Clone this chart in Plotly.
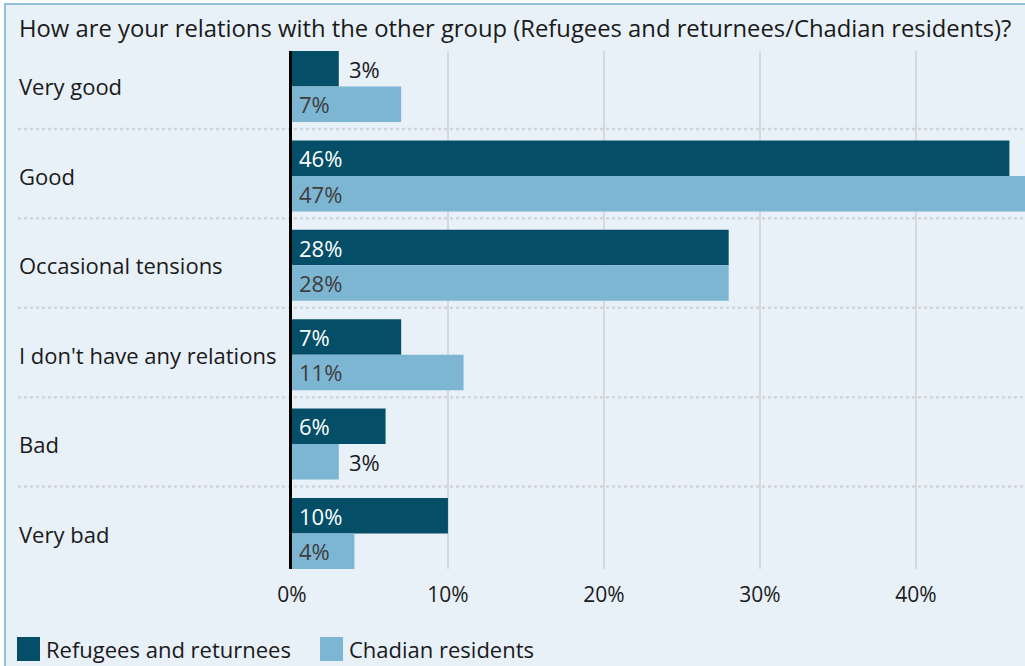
import plotly.graph_objects as go

# Survey answers and shares (%) for each group
categories = ["Very good", "Good", "Occasional tensions",
              "I don't have any relations", "Bad", "Very bad"]
refugees = [3, 46, 28, 7, 6, 10]
residents = [7, 47, 28, 11, 3, 4]
series_names = ["Refugees and returnees", "Chadian residents"]
tick_values = [0, 10, 20, 30, 40]
tick_labels = ["0%", "10%", "20%", "30%", "40%"]
title_text = ("How are your relations with the other group "
              "(Refugees and returnees/Chadian residents)?")

DARK = "#044f67"
LIGHT = "#7db6d2"
PANEL = "#e8f0f8"
FONT = "Open Sans"
TXT = "#1a1a1a"

# Canvas geometry (pixels)
FIG_W, FIG_H = 1025, 666
M_L, M_R, M_T, M_B = 292, 0, 51, 97
PLOT_W = FIG_W - M_L - M_R
PLOT_H = FIG_H - M_T - M_B


def px_x(px):
    return (px - M_L) / PLOT_W


def px_y(py):
    return (FIG_H - M_B - py) / PLOT_H


BARGAP = 0.206
half_group = (1 - BARGAP) / 2
offset = half_group / 2
ypos = list(range(len(categories)))

fig = go.Figure()
fig.add_trace(go.Bar(y=ypos, x=refugees, orientation="h", name=series_names[0],
                     marker=dict(color=DARK, line=dict(width=0)), hoverinfo="x+y"))
fig.add_trace(go.Bar(y=ypos, x=residents, orientation="h", name=series_names[1],
                     marker=dict(color=LIGHT, line=dict(width=0)), hoverinfo="x+y"))

annotations = []
shapes = []

# Panel background with border
shapes.append(dict(type="rect", xref="paper", yref="paper",
                   x0=px_x(5), x1=1.2, y0=-0.5, y1=px_y(4),
                   line=dict(color="#8fc3dd", width=2), fillcolor=PANEL,
                   layer="below"))

# Title
annotations.append(dict(text=title_text, xref="paper", yref="paper",
                        x=px_x(17), y=px_y(28), xanchor="left", yanchor="middle",
                        showarrow=False, font=dict(family=FONT, size=23.8, color=TXT)))

# Category labels, left aligned
for i, cat in enumerate(categories):
    annotations.append(dict(text=cat, xref="paper", yref="y", x=px_x(17), y=i,
                            xanchor="left", yanchor="middle", showarrow=False,
                            font=dict(family=FONT, size=22, color=TXT)))

# Dotted separators between categories
for i in range(len(categories) - 1):
    shapes.append(dict(type="line", xref="paper", yref="y",
                       x0=px_x(18), x1=1, y0=i + 0.475, y1=i + 0.475,
                       line=dict(color="#d2d5d8", width=2.5, dash="dot"),
                       layer="below"))

# Value labels
label_specs = [(refugees, -offset, "#ffffff"), (residents, offset, "#3d3d3d")]
for values, dy, inside_color in label_specs:
    for i, v in enumerate(values):
        inside = v >= 4
        annotations.append(dict(
            text=f"{v}%", xref="x", yref="y",
            x=0 if inside else v, xshift=5 if inside else 8,
            y=i + dy, xanchor="left", yanchor="middle", showarrow=False,
            font=dict(family=FONT, size=22,
                      color=inside_color if inside else TXT)))

# Legend drawn as swatches with names
legend_items = [(series_names[0], DARK, 17), (series_names[1], LIGHT, 320)]
for name, color, x_px in legend_items:
    shapes.append(dict(type="rect", xref="paper", yref="paper",
                       x0=px_x(x_px), x1=px_x(x_px + 23),
                       y0=px_y(661), y1=px_y(637),
                       line=dict(width=0), fillcolor=color))
    annotations.append(dict(text=name, xref="paper", yref="paper",
                            x=px_x(x_px + 27), y=px_y(649),
                            xanchor="left", yanchor="middle", showarrow=False,
                            font=dict(family=FONT, size=22, color=TXT)))

fig.update_layout(
    width=FIG_W, height=FIG_H,
    margin=dict(l=M_L, r=M_R, t=M_T, b=M_B, pad=0),
    paper_bgcolor="#ffffff", plot_bgcolor="rgba(0,0,0,0)",
    barmode="group", bargap=BARGAP, bargroupgap=0,
    showlegend=False,
    font=dict(family=FONT, size=20, color=TXT),
    xaxis=dict(range=[0, 47], tickvals=tick_values, ticktext=tick_labels,
               showgrid=True, gridcolor="#d3d9dd", gridwidth=2,
               zeroline=False, showline=False, ticks="",
               ticklabelstandoff=11,
               tickfont=dict(family=FONT, size=21, color=TXT),
               fixedrange=True),
    yaxis=dict(range=[len(categories) - 1 + half_group, -half_group],
               showticklabels=False, showgrid=False, zeroline=False,
               showline=True, linecolor="#000000", linewidth=2.5,
               layer="above traces", ticks="", fixedrange=True),
    annotations=annotations,
    shapes=shapes,
)

fig.write_html("out.html")
